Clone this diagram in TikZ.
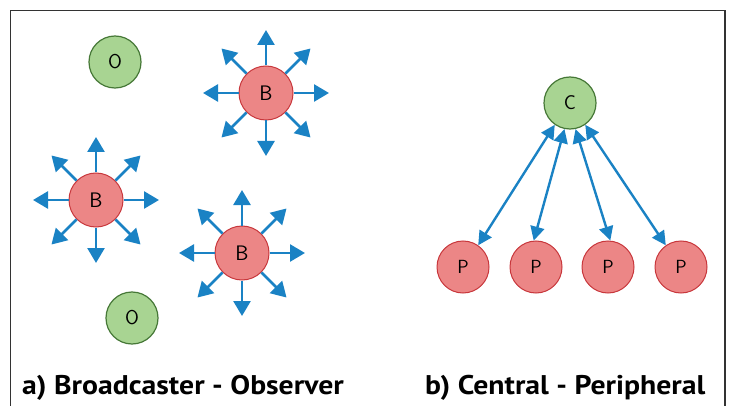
\documentclass[tikz,border=0pt]{standalone}
\usepackage{fontspec}
\setmainfont{PT Sans}
\usetikzlibrary{arrows.meta,calc}
\definecolor{gfill}{RGB}{168,212,146}
\definecolor{gdraw}{RGB}{70,120,55}
\definecolor{rfill}{RGB}{236,134,134}
\definecolor{rdraw}{RGB}{200,55,60}
\definecolor{arrblue}{RGB}{26,130,196}
\begin{document}
\begin{tikzpicture}[x=1pt,y=-1pt,
  obs/.style={circle,draw=gdraw,fill=gfill,line width=1.2pt,minimum size=52pt,inner sep=0pt,font=\fontsize{20}{20}\sffamily},
  bro/.style={circle,draw=rdraw,fill=rfill,line width=1pt,minimum size=54pt,inner sep=0pt,font=\fontsize{21}{21}\sffamily},
  per/.style={circle,draw=rdraw,fill=rfill,line width=1pt,minimum size=52pt,inner sep=0pt,font=\fontsize{19}{19}\sffamily},
  ray/.style={draw=arrblue,line width=2.6pt,-{Triangle[length=15pt,width=17pt]}},
  link/.style={draw=arrblue,line width=2.4pt,{Triangle[length=14pt,width=14pt]}-{Triangle[length=14pt,width=14pt]}},
  captext/.style={font=\fontsize{27}{27}\bfseries,anchor=base west,inner sep=0pt}]
\useasboundingbox (0,0) rectangle (730,406);
\draw[line width=1.2pt,draw=black!80] (10.5,406) -- (10.5,10.5) -- (725,10.5) -- (725,406);
% a) Broadcaster - Observer
\node[obs] (o1) at (115,62) {O};
\node[obs] (o2) at (132,318) {O};
\node[bro] (b1) at (266,93) {B};
\node[bro] (b2) at (96,200) {B};
\node[bro] (b3) at (242,253) {B};
\foreach \b in {b1,b2,b3}{
  \foreach \a in {0,45,...,315}{
    \coordinate (\b t\a) at ($(\b)+(\a:63pt)$);
    \draw[ray] (\b.\a) -- (\b t\a);
  }
}
% b) Central - Peripheral
\node[obs] (c) at (570,103) {C};
\node[per] (p1) at (463,267) {P};
\node[per] (p2) at (536,267) {P};
\node[per] (p3) at (608,267) {P};
\node[per] (p4) at (681,267) {P};
\draw[link] (c.235) -- (p1.55);
\draw[link] (c.258) -- (p2.95);
\draw[link] (c.282) -- (p3.85);
\draw[link] (c.305) -- (p4.125);
\node[captext] (la) at (22,394) {\scalebox{1.1}[1]{a) Broadcaster - Observer}};
\node[captext] (lb) at (425,394) {\scalebox{1.1}[1]{b) Central - Peripheral}};
\end{tikzpicture}
\end{document}
